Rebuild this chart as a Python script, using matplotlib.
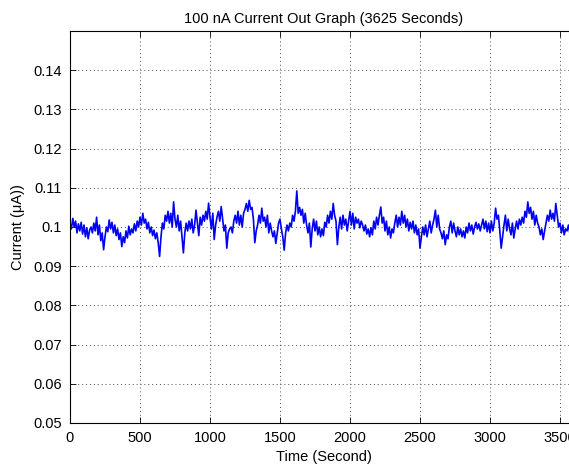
import numpy as np
import matplotlib
matplotlib.use("Agg")
import matplotlib.pyplot as plt

plt.rcParams['font.family'] = ['Liberation Sans', 'DejaVu Sans']

# current readings (uA), one every 10 seconds
current_ua = [
    0.1010, 0.0995, 0.1022, 0.1000, 0.1015,
    0.0985, 0.1008, 0.0990, 0.1012, 0.0982,
    0.1005, 0.0975, 0.0998, 0.0970, 0.0992,
    0.1000, 0.0985, 0.1010, 0.0990, 0.1025,
    0.0980, 0.1005, 0.0965, 0.0985, 0.0942,
    0.0975, 0.1000, 0.0988, 0.1018, 0.0995,
    0.1012, 0.0985, 0.1005, 0.0978, 0.0995,
    0.0968, 0.0985, 0.0950, 0.0975, 0.0960,
    0.0990, 0.0972, 0.1002, 0.0980, 0.0995,
    0.0985, 0.1008, 0.0990, 0.1015, 0.1000,
    0.1025, 0.1005, 0.1035, 0.1010, 0.1020,
    0.0995, 0.1012, 0.0985, 0.1000, 0.0978,
    0.0992, 0.0970, 0.0985, 0.0960, 0.0925,
    0.0975, 0.1010, 0.0995, 0.1030, 0.1015,
    0.1040, 0.1010, 0.1035, 0.1000, 0.1064,
    0.1020, 0.1000, 0.1030, 0.0990, 0.1015,
    0.0975, 0.0934, 0.0985, 0.1010, 0.0990,
    0.1015, 0.0995, 0.1020, 0.0985, 0.1005,
    0.1043, 0.1010, 0.0978, 0.1025, 0.1005,
    0.1030, 0.1015, 0.1040, 0.1020, 0.1061,
    0.1025, 0.0995, 0.1035, 0.0968, 0.1005,
    0.1025, 0.1040, 0.1015, 0.1052, 0.1020,
    0.0990, 0.1005, 0.0946, 0.0985, 0.0995,
    0.1000, 0.0985, 0.1015, 0.1030, 0.1010,
    0.1040, 0.1005, 0.1030, 0.1000, 0.1035,
    0.1045, 0.1060, 0.1040, 0.1068, 0.1045,
    0.1050, 0.1020, 0.0960, 0.0990, 0.1005,
    0.1030, 0.1010, 0.1048, 0.1015, 0.1025,
    0.1000, 0.1030, 0.0985, 0.1010, 0.0990,
    0.0975, 0.0990, 0.0958, 0.0985, 0.1010,
    0.1020, 0.0995, 0.0975, 0.0941, 0.0985,
    0.1005, 0.0990, 0.1010, 0.1000, 0.1030,
    0.1015, 0.1040, 0.1092, 0.1035, 0.1050,
    0.1030, 0.1045, 0.1010, 0.1035, 0.1005,
    0.0985, 0.1010, 0.0949, 0.0995, 0.1020,
    0.0990, 0.1015, 0.0980, 0.1000, 0.0975,
    0.0995, 0.0978, 0.1012, 0.1000, 0.1030,
    0.1010, 0.1040, 0.1020, 0.1060, 0.1030,
    0.1015, 0.0955, 0.1000, 0.1025, 0.0995,
    0.1030, 0.1005, 0.1020, 0.0990, 0.1015,
    0.1040, 0.1005, 0.1035, 0.0995, 0.1025,
    0.1010, 0.1020, 0.0998, 0.1015, 0.1005,
    0.0990, 0.1005, 0.0982, 0.0995, 0.0975,
    0.0998, 0.0980, 0.1015, 0.0995, 0.1025,
    0.1005, 0.1030, 0.1051, 0.1010, 0.1025,
    0.0990, 0.1015, 0.0980, 0.1000, 0.0972,
    0.0995, 0.0985, 0.1010, 0.1030, 0.1000,
    0.1025, 0.1005, 0.1040, 0.1010, 0.1030,
    0.1000, 0.1020, 0.0990, 0.1012, 0.0995,
    0.1015, 0.0985, 0.1005, 0.0980, 0.0995,
    0.0946, 0.0975, 0.1000, 0.0980, 0.1005,
    0.0975, 0.0995, 0.1015, 0.0985, 0.1005,
    0.1020, 0.1043, 0.1000, 0.1030, 0.0995,
    0.0985, 0.0970, 0.0990, 0.0955, 0.0980,
    0.0970, 0.1000, 0.1015, 0.0985, 0.1010,
    0.0990, 0.0975, 0.1000, 0.0980, 0.0995,
    0.0975, 0.0990, 0.0972, 0.1000, 0.0985,
    0.1010, 0.0990, 0.1005, 0.0982, 0.1000,
    0.1012, 0.0995, 0.1008, 0.0990, 0.1005,
    0.1020, 0.0995, 0.1015, 0.0988, 0.1010,
    0.0985, 0.1015, 0.0990, 0.1010, 0.1048,
    0.1020, 0.1030, 0.0990, 0.0946, 0.0975,
    0.1005, 0.1030, 0.0990, 0.1020, 0.0995,
    0.0980, 0.1010, 0.0972, 0.0995, 0.1015,
    0.0995, 0.1020, 0.1005, 0.1025, 0.1010,
    0.1040, 0.1025, 0.1064, 0.1035, 0.1050,
    0.1020, 0.1040, 0.1005, 0.1030, 0.1010,
    0.1000, 0.0980, 0.0995, 0.0968, 0.0990,
    0.1010, 0.1030, 0.1015, 0.1043, 0.1020,
    0.1035, 0.1015, 0.1060, 0.1030, 0.1000,
    0.1010, 0.0985, 0.1005, 0.0980, 0.0995,
    0.0990, 0.1005, 0.0985, 0.0998, 0.0980,
    0.0995, 0.0985, 0.1000,
]
time_s = np.arange(len(current_ua)) * 10

xticks = [0, 500, 1000, 1500, 2000, 2500, 3000, 3500]
yticks = [0.05, 0.06, 0.07, 0.08, 0.09, 0.1, 0.11, 0.12, 0.13, 0.14]
ytick_labels = ['0.05', '0.06', '0.07', '0.08', '0.09', '0.1',
                '0.11', '0.12', '0.13', '0.14']

fig = plt.figure(figsize=(5.69, 4.67), dpi=100)
# axes runs past the right edge of the picture, like the cropped screenshot
ax = fig.add_axes([70/569, 1 - 423/467, 507.5/569, 392/467])

ax.plot(time_s, current_ua, color=(0, 0, 0.95), lw=1.2)

ax.set_xlim(0, 3625)
ax.set_ylim(0.05, 0.15)
ax.set_xticks(xticks)
ax.set_yticks(yticks)
ax.set_yticklabels(ytick_labels)

ax.grid(True, color='0.3', lw=0.7, linestyle=(0, (1, 3)))
ax.tick_params(direction='in', length=4, width=0.6, top=True, right=True,
               labelsize=10.5, colors='black', pad=6)
for s in ax.spines.values():
    s.set_linewidth(0.8)

ax.set_title('100 nA Current Out Graph (3625 Seconds)', fontsize=10.5, pad=6)
ax.set_xlabel('Time (Second)', fontsize=10.5, labelpad=3)
ax.set_ylabel('Current (μA))', fontsize=10.5, labelpad=6)

fig.savefig('out.png', dpi=100)
